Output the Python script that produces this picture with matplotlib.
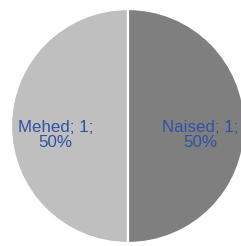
import matplotlib
matplotlib.use("Agg")
import matplotlib.pyplot as plt

categories = ["Mehed", "Naised"]
values = [1, 1]
percents = ["50%", "50%"]
colors = ["#BFBFBF", "#7F7F7F"]

W, H = 241, 246
fig = plt.figure(figsize=(W / 100, H / 100), dpi=100)
cx, cy, r = 128, 246 - 126, 117
ax = fig.add_axes([(cx - r) / W, (cy - r) / H, 2 * r / W, 2 * r / H])

labels = [f"{c}; {v};\n{p}" for c, v, p in zip(categories, values, percents)]
wedges, texts = ax.pie(values, labels=labels, colors=colors, startangle=90,
                       counterclock=True, radius=1, labeldistance=0.62,
                       wedgeprops=dict(edgecolor="white", linewidth=1.6),
                       textprops=dict(fontsize=12.2, color="#2E52A3",
                                      family="Liberation Sans"))
for t in texts:
    x, y = t.get_position()
    t.set_position((x, y - 0.077))
    t.set_ha("center")
    t.set_va("center")
    t.set_multialignment("center")
    t.set_linespacing(1.08)
ax.set_xlim(-1, 1)
ax.set_ylim(-1, 1)
ax.set_aspect("auto")
ax.axis("off")
fig.savefig("out.png", dpi=100)
